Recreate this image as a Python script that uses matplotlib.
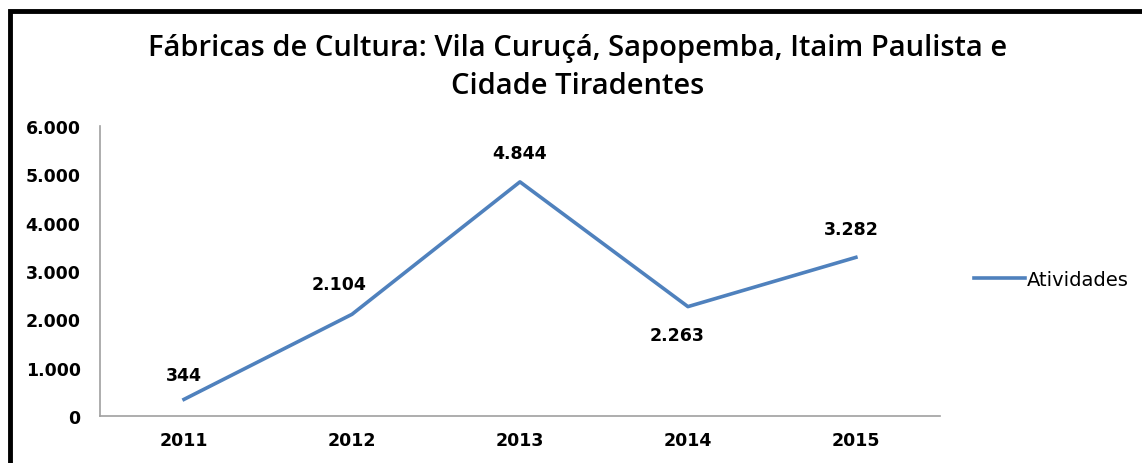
import matplotlib
matplotlib.use("Agg")
import matplotlib.pyplot as plt
from matplotlib.patches import Rectangle
from matplotlib.ticker import FuncFormatter

# dados
anos = ["2011", "2012", "2013", "2014", "2015"]
atividades = [344, 2104, 4844, 2263, 3282]
rotulos = ["344", "2.104", "4.844", "2.263", "3.282"]
yticks = [0, 1000, 2000, 3000, 4000, 5000, 6000]

plt.rcParams['font.family'] = ['DejaVu Sans']

fig = plt.figure(figsize=(11.42, 4.64), dpi=100)
ax = fig.add_axes([0.0876, 0.1013, 0.7354, 0.625])

x = list(range(len(anos)))
ax.plot(x, atividades, color='#4F81BD', lw=2.6, label='Atividades')

# posicao dos rotulos (offset em pontos)
offsets = [(0, 11), (-9, 15), (0, 14), (-8, -27), (-3, 14)]
for xi, v, r, off in zip(x, atividades, rotulos, offsets):
    ax.annotate(r, (xi, v), xytext=off, textcoords='offset points',
                ha='center', va='bottom', fontsize=12.5, fontweight='bold')

ax.set_xlim(-0.5, len(anos) - 0.5)
ax.set_ylim(0, 6000)
ax.set_xticks(x)
ax.set_xticklabels(anos)
ax.set_yticks(yticks)
ax.yaxis.set_major_formatter(FuncFormatter(lambda v, p: f"{int(v):,}".replace(",", ".")))
ax.tick_params(axis='both', length=0, labelsize=12.5)
ax.tick_params(axis='y', pad=14)
ax.tick_params(axis='x', pad=11)
for lab in ax.get_xticklabels() + ax.get_yticklabels():
    lab.set_fontweight('bold')

for s in ['top', 'right']:
    ax.spines[s].set_visible(False)
for s in ['left', 'bottom']:
    ax.spines[s].set_color('#A0A0A0')
    ax.spines[s].set_linewidth(1.2)

ax.legend(loc='center left', bbox_to_anchor=(1.02, 0.47), frameon=False,
          handlelength=2.6, handletextpad=0.1, fontsize=14)

fig.text(0.506, 0.855, "Fábricas de Cultura: Vila Curuçá, Sapopemba, Itaim Paulista e\nCidade Tiradentes",
         ha='center', va='center', fontsize=21, fontweight='semibold',
         family=['Open Sans', 'DejaVu Sans'], linespacing=1.4)

# moldura
fig.patches.append(Rectangle((10 / 1142, -0.1), 1.2, 1 - 12 / 464 + 0.1, transform=fig.transFigure,
                             fill=False, edgecolor='black', lw=3.5))

fig.savefig("out.png", dpi=100)
